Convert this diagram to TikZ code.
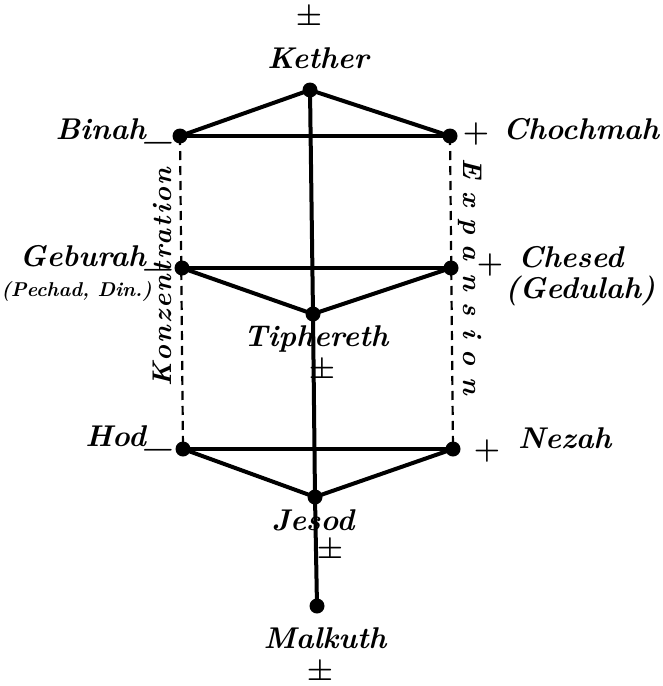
\documentclass[tikz,border=0pt]{standalone}
\usepackage{fontspec}
\setmainfont{Latin Modern Roman}
\begin{document}
\begin{tikzpicture}[x=1pt,y=-1pt,
  sef/.style={circle,fill=black,inner sep=0pt,minimum size=15pt},
  edge/.style={line width=4pt,line cap=round},
  dashline/.style={line width=2.2pt,dash pattern=on 9pt off 6pt},
  lbl/.style={font=\fontsize{30}{32}\selectfont\bfseries\itshape,inner sep=0pt},
  pm/.style={font=\fontsize{30}{32}\selectfont\bfseries\upshape,inner sep=0pt},
  sml/.style={font=\fontsize{20}{22}\selectfont\bfseries\itshape,inner sep=0pt},
  side/.style={font=\fontsize{27}{29}\selectfont\bfseries\itshape,inner sep=0pt}]
\useasboundingbox (0,0) rectangle (662,686);
\node[sef] (ke) at (310,90) {};
\node[sef] (bi) at (180,136) {};
\node[sef] (ch) at (450,136) {};
\node[sef] (ge) at (182,268) {};
\node[sef] (cs) at (451,268) {};
\node[sef] (ti) at (313,314) {};
\node[sef] (ho) at (183,449) {};
\node[sef] (ne) at (453,449) {};
\node[sef] (je) at (315,497) {};
\node[sef] (ma) at (317,606) {};
% connectors
\draw[edge] (ke.center) -- (bi.center);
\draw[edge] (ke.center) -- (ch.center);
\draw[edge] (bi.center) -- (ch.center);
\draw[edge] (ke.center) -- (ti.center);
\draw[edge] (ti.center) -- (je.center);
\draw[edge] (je.center) -- (ma.center);
\draw[edge] (ge.center) -- (cs.center);
\draw[edge] (ge.center) -- (ti.center);
\draw[edge] (ti.center) -- (cs.center);
\draw[edge] (ho.center) -- (ne.center);
\draw[edge] (ho.center) -- (je.center);
\draw[edge] (je.center) -- (ne.center);
\draw[dashline] (bi.center) -- (ho.center);
\draw[dashline] (ch.center) -- (ne.center);
% labels
\node[pm] (tke) at (309,15) {±};
\node[lbl] (lke) at (318,58) {Kether};
\node[lbl,anchor=east] (lbi) at (172,131) {Binah\_};
\node[pm] (pch) at (476,134) {+};
\node[lbl,anchor=west] (lch) at (503,129) {Chochmah};
\node[lbl,anchor=east] (lge) at (172,258) {Geburah\_};
\node[sml,anchor=east] (lpd) at (152,291) {(Pechad, Din.)};
\node[pm] (pcs) at (490,265) {+};
\node[lbl,anchor=west] (lcs) at (518,257) {Chesed};
\node[lbl,anchor=west] (lgd) at (505,291) {(Gedulah)};
\node[lbl] (lti) at (316,339) {Tiphereth};
\node[pm] (tti) at (322,368) {±};
\node[lbl,anchor=east] (lho) at (172,438) {Hod\_};
\node[pm] (pne) at (487,451) {+};
\node[lbl,anchor=west] (lne) at (518,438) {Nezah};
\node[lbl] (lje) at (313,520) {Jesod};
\node[pm] (tje) at (330,548) {±};
\node[lbl] (lma) at (325,638) {Malkuth};
\node[pm] (tma) at (320,670) {±};
\node[side,rotate=90] (kon) at (162,277) {\addfontfeatures{LetterSpace=8}Konzentration};
\node[side,rotate=-90] (exp) at (470,277) {\addfontfeatures{LetterSpace=45}Expansion};
\end{tikzpicture}
\end{document}
